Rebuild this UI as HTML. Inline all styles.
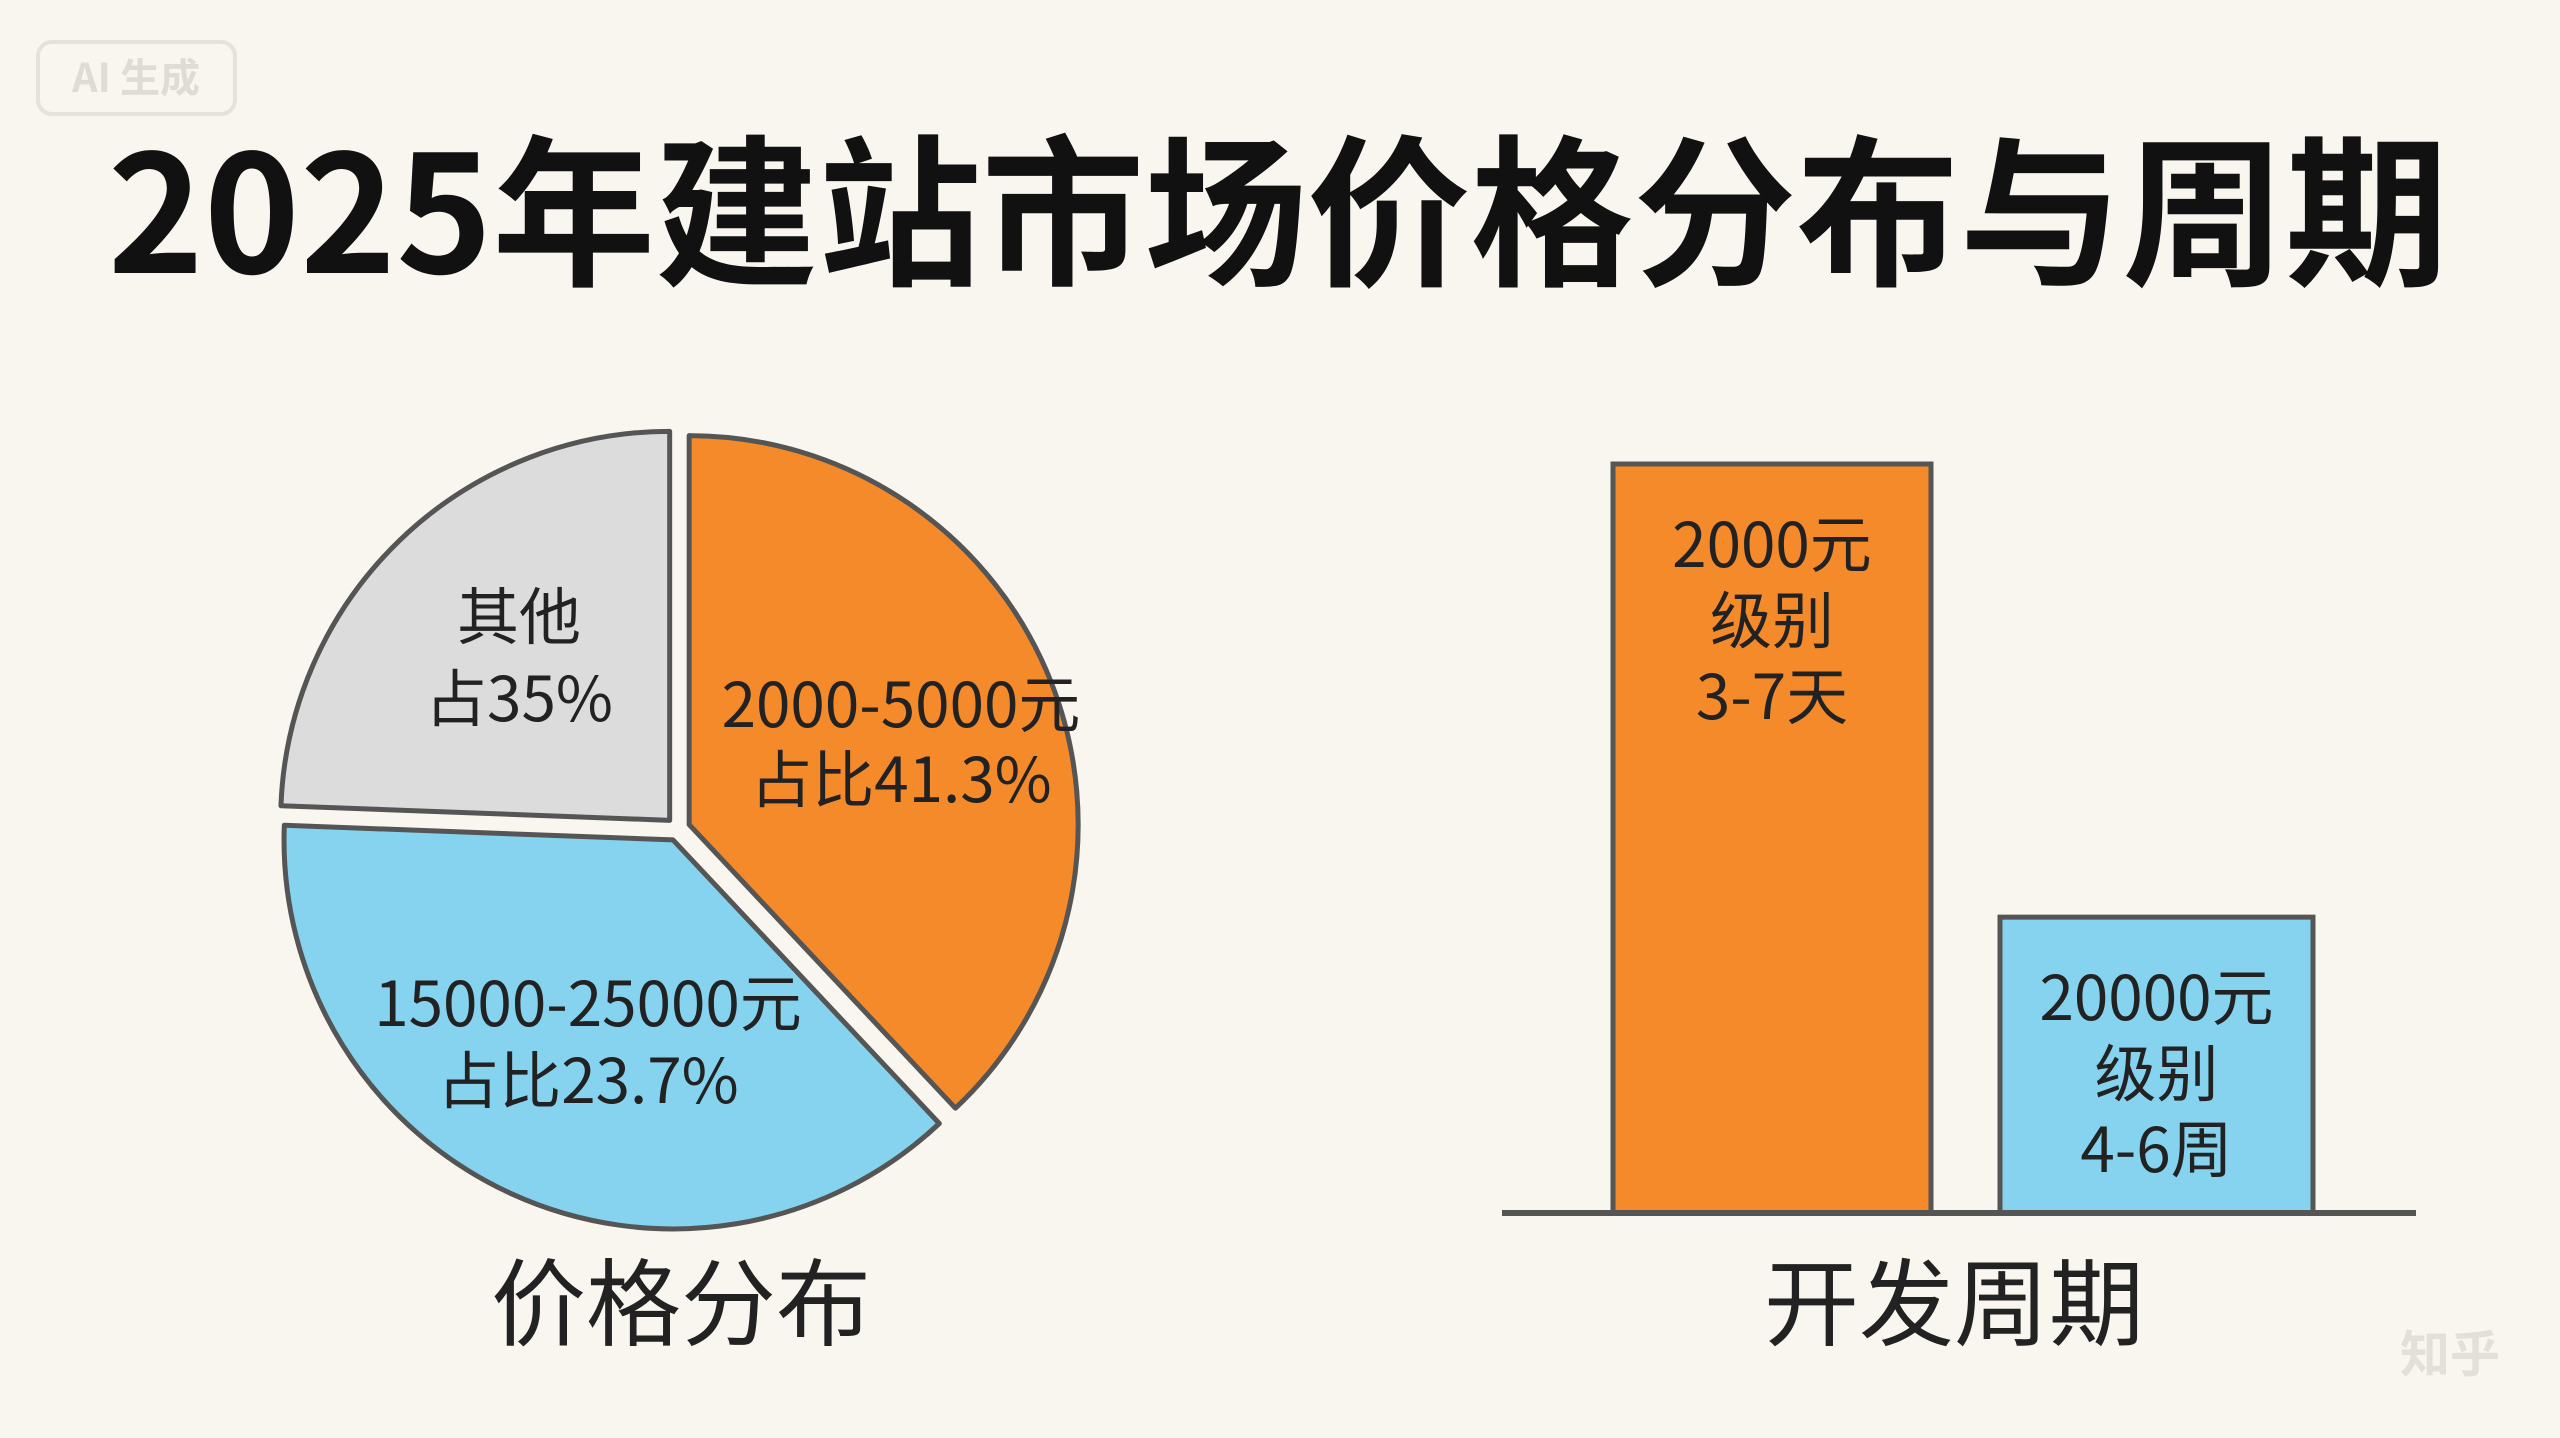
<!DOCTYPE html>
<html><head><meta charset="utf-8"><style>
html,body{margin:0;padding:0;background:#F8F6EE;}
svg{display:block;font-family:"Noto Sans CJK SC","Liberation Sans",sans-serif;}
</style></head><body>
<svg id="chart" width="2560" height="1438" viewBox="0 0 2560 1438">
<rect width="2560" height="1438" fill="#F8F6EE"/>
<g>
<rect x="38" y="42" width="197" height="72" rx="14" fill="none" stroke="#e4e2da" stroke-width="4"/>
<text x="136" y="92" font-size="40" fill="#dedcd4" text-anchor="middle" font-weight="bold">AI 生成</text>
</g>
<text x="1278" y="273" font-size="163" font-weight="bold" text-anchor="middle" fill="#111">2025年建站市场价格分布与周期</text>
<g id="pie"></g>
<text x="681" y="1338" font-size="95" text-anchor="middle" fill="#222">价格分布</text>
<g id="bars"></g>
<line x1="1502" y1="1213" x2="2416" y2="1213" stroke="#555" stroke-width="6"/>
<text x="1954" y="1338" font-size="95" text-anchor="middle" fill="#222">开发周期</text>
<text x="2400" y="1372" font-size="50" fill="#e2e0d8" font-weight="bold">知乎</text>
</svg>
<script>
const NS="http://www.w3.org/2000/svg";
// pie data (slice arcs as drawn, labels as printed)
const sliceNames=["2000-5000元","15000-25000元","其他"];
const sliceShares=[38.0,37.6,24.4];
const sliceLabelLine1=["2000-5000元","15000-25000元","其他"];
const sliceLabelLine2=["占比41.3%","占比23.7%","占35%"];
const sliceColors=["#F58A2A","#85D3EE","#DCDCDC"];
// bar data
const barCategories=["2000元级别","20000元级别"];
const barValues=[100,39.5];
const barLabel1=["2000元","20000元"];
const barLabel2=["级别","级别"];
const barLabel3=["3-7天","4-6周"];
const barColors=["#F58A2A","#85D3EE"];

function mk(tag,attrs,parent){const e=document.createElementNS(NS,tag);for(const k in attrs)e.setAttribute(k,attrs[k]);parent.appendChild(e);return e;}
const pie=document.getElementById("pie");
const cx=678,cy=829,r=389,off=12;
const total=sliceShares.reduce((a,b)=>a+b,0);
let a0=0;
const labelPos=[[901,705,780],[588,1004,1081],[519,617,699]];
sliceShares.forEach((v,i)=>{
  const a1=a0+v/total*2*Math.PI, mid=(a0+a1)/2;
  const ox=cx+off*Math.sin(mid), oy=cy-off*Math.cos(mid);
  const x0=ox+r*Math.sin(a0), y0=oy-r*Math.cos(a0), x1=ox+r*Math.sin(a1), y1=oy-r*Math.cos(a1);
  const large=(a1-a0)>Math.PI?1:0;
  const p=mk("path",{d:`M${ox},${oy} L${x0},${y0} A${r},${r} 0 ${large} 1 ${x1},${y1} Z`,fill:sliceColors[i],stroke:"#555","stroke-width":5,"stroke-linejoin":"round"},pie);
  
  
  const lp=labelPos[i];
  const t1=mk("text",{x:lp[0],y:lp[1]+22,"font-size":62,"text-anchor":"middle",fill:"#222"},pie);
  t1.textContent=sliceLabelLine1[i];
  
  
  const t2=mk("text",{x:lp[0],y:lp[2]+22,"font-size":62,"text-anchor":"middle",fill:"#222"},pie);
  t2.textContent=sliceLabelLine2[i];
  
  
  a0=a1;
});
const bars=document.getElementById("bars");
const baseY=1213, maxH=749, maxV=100;
const yScale=v=>baseY-v/maxV*maxH;
const barX=[1613,2000], barW=[318,313];
barValues.forEach((v,i)=>{
  const top=yScale(v);
  const b=mk("rect",{x:barX[i],y:top,width:barW[i],height:baseY-top,fill:barColors[i],stroke:"#555","stroke-width":5},bars);
  
  
  const cxb=barX[i]+barW[i]/2;
  [barLabel1[i],barLabel2[i],barLabel3[i]].forEach((s,j)=>{
    const t=mk("text",{x:cxb,y:top+103+j*76,"font-size":62,"text-anchor":"middle",fill:"#222"},bars);
    t.textContent=s;
    
    
  });
});
</script>
</body></html>
